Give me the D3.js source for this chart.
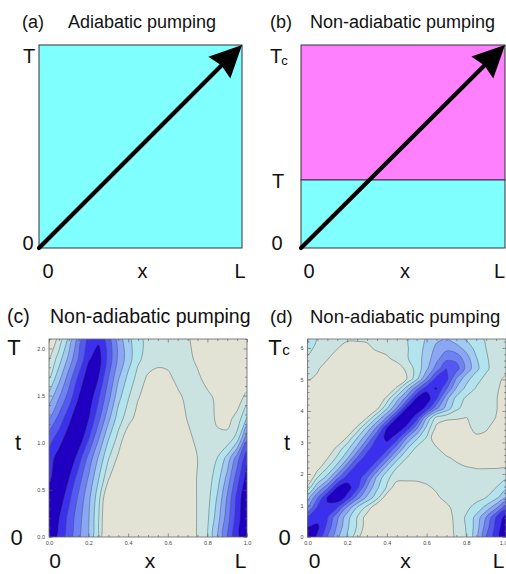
<!DOCTYPE html>
<html><head><meta charset="utf-8">
<script src="https://cdn.jsdelivr.net/npm/d3@7"></script>
<style>body{margin:0;background:#fff}svg{display:block}</style>
</head><body>
<svg id="fig" width="506" height="574"></svg>
<script>
// ---------------- data ----------------
const panelTitles = ["(a)","(b)","(c)","(d)"];
const panelNames = ["Adiabatic pumping","Non-adiabatic pumping","Non-adiabatic pumping","Non-adiabatic pumping"];
const arrowPath = [[0,0],[1,1]];          // from (0,0) to (L, T) / (L, Tc)
const tRatioB = 0.335;                    // T / Tc in panel (b)
const gridX = [0,0.05,0.1,0.15,0.2,0.25,0.3,0.35,0.4,0.45,0.5,0.55,0.6,0.65,0.7,0.75,0.8,0.85,0.9,0.95,1];
const gridTc = [0,0.21,0.42,0.63,0.84,1.05,1.26,1.47,1.68,1.89,2.1];
const gridTd = [0,0.314,0.628,0.942,1.257,1.571,1.885,2.199,2.513,2.827,3.142,3.456,3.770,4.084,4.398,4.712,5.027,5.341,5.655,5.969,6.283];
// panel (c) field (rows = t from bottom to top)
const fieldC = [
 [8.6,7.2,6.0,4.7,3.5,1.4,-1.5,-1,-1,-1,-1,-1,-1,-1,-0.5,0.6,1.5,3.5,5.5,7.3,8.3],
 [8.7,7.6,6.2,4.9,3.6,1.6,-1.2,-1,-1,-1,-1,-1,-1,-1,-0.5,0.6,1.3,3.0,5.0,7.0,8.7],
 [8.4,8.3,6.8,5.3,3.8,1.9,-0.8,-1,-1,-1,-1,-1,-1,-1,-0.5,0.6,1.1,2.6,4.6,6.8,8.7],
 [7.2,8.6,7.6,6.0,4.4,2.6,0.7,-1,-1,-1,-1,-1,-1,-1,-0.5,0.6,1.0,2.0,3.8,6.0,8.0],
 [7.0,8.0,8.6,7.0,5.2,3.4,1.6,0.3,-1,-1,-1,-1,-1,-1,-0.5,0.5,0.8,1.5,2.8,5.0,7.2],
 [6.0,7.0,8.1,8.3,6.6,4.6,2.6,1.2,-0.3,-1,-1,-1,-1,-0.8,0.1,0.9,1.0,0.75,0.72,1.9,5.2],
 [4.5,5.8,7.2,8.5,7.6,5.8,3.8,2.0,1.0,0.0,-1,-1,-1,-0.3,0.6,1.0,1.0,0.3,0.2,0.8,2.6],
 [3.0,4.5,6.0,7.6,8.2,6.6,4.8,2.8,1.55,0.55,0.0,-0.3,-0.3,0.2,0.8,1.0,0.9,0.2,-0.3,0.0,0.9],
 [1.5,3.2,5.0,6.8,8.2,7.5,5.5,3.6,2.2,1.1,0.3,0.0,0.2,0.8,1.0,0.8,0.0,-0.5,-0.5,-0.5,-0.3],
 [0.4,2.0,3.8,5.6,7.4,8.0,6.2,4.3,3.0,1.7,1.1,0.9,0.9,1.0,0.9,0.2,-0.3,-0.5,-0.5,-0.5,-0.5],
 [-0.5,0.8,2.8,5.0,6.9,7.3,6.0,4.0,2.8,1.8,1.2,1.0,1.0,1.0,0.7,-0.2,-0.5,-0.5,-0.5,-0.5,-0.5]
];
// panel (d) field
const fieldD = [
 [8.6,7.3,5.5,3.7,2.4,0.8,-0.4,-1,-1,-1,-1,-1,-1,-1,-0.5,0.8,1.5,3.0,5.5,7.0,8.6],
 [7.5,7.8,6.2,4.3,2.7,1.4,-0.1,-1,-1,-1,-1,-1,-1,-1,-0.4,0.9,1.55,2.9,5.0,6.8,8.5],
 [6.6,7.0,6.6,4.7,2.9,1.5,0.0,-1,-1,-1,-1,-1,-1,-1,-0.3,1.0,1.6,2.8,4.5,6.5,8.0],
 [4.4,6.6,7.4,6.6,4.3,2.5,1.2,-0.4,-1,-1,-1,-1,-1,-0.6,0.2,1.0,1.3,1.8,2.8,4.2,6.0],
 [3.0,5.4,7.6,8.4,7.2,5.0,3.3,1.9,-0.2,-0.6,-0.6,-0.6,-0.3,0.3,0.9,1.0,1.0,1.2,1.5,2.2,3.5],
 [0.8,3.3,5.2,7.6,8.0,6.8,4.4,2.7,1.4,-0.3,-0.3,-0.2,0.3,0.7,1.0,1.0,1.0,1.1,1.2,1.5,2.2],
 [-0.8,1.5,2.9,5.2,7.0,7.2,5.6,3.3,1.7,1.0,0.9,0.9,0.9,1.0,1.0,1.0,1.0,1.0,1.0,1.1,1.3],
 [-1,0.1,1.5,3.0,5.3,7.1,7.1,5.3,3.0,1.5,1.0,1.0,1.0,1.0,1.0,0.9,0.6,0.45,0.45,0.45,0.45],
 [-1,-1,0.4,1.7,3.3,5.6,7.1,7.0,5.2,2.9,1.5,1.0,0.9,0.9,0.7,0.2,-0.3,-0.4,-0.4,-0.4,-0.4],
 [-1,-1,-0.7,0.8,2.1,3.8,6.0,7.3,6.9,5.0,2.7,1.3,1.0,0.6,-0.3,-0.6,-0.6,-0.6,-0.6,-0.6,-0.6],
 [-1,-1,-1,-1,0.7,2.5,4.3,6.6,7.9,7.0,4.5,2.7,1.4,-0.5,-0.6,-0.6,-0.6,0.3,0.0,-0.6,-0.6],
 [-1,-1,-1,-1,-1,0.8,2.8,4.8,7.6,8.2,7.2,4.7,2.2,0.2,-0.3,-0.3,0.2,0.8,0.7,-0.2,-0.6],
 [-1,-1,-1,-1,-1,-1,0.6,2.7,4.8,7.6,8.3,6.9,3.5,1.0,0.7,0.6,0.45,0.9,1.0,0.45,-0.3],
 [-1,-1,-1,-1,-1,-1,-1,0.2,2.4,4.6,7.6,8.3,7.2,4.7,3.1,1.7,1.1,1.0,0.9,0.6,-0.3],
 [-1,-1,-1,-1,-1,-1,-1,-1,0.9,3.0,5.0,7.7,8.1,6.6,3.8,2.2,1.3,1.0,0.9,0.6,-0.3],
 [-0.6,-1,-1,-1,-1,-1,-1,-1,-1,0.8,3.0,5.2,7.2,7.6,5.6,3.4,2.2,1.4,1.0,0.7,0.0],
 [0.7,0.2,-0.5,-1,-1,-1,-1,-1,-1,-1,0.5,2.2,4.6,6.9,6.9,4.4,2.9,1.9,1.2,0.8,0.3],
 [1.0,0.7,-0.3,-1,-1,-1,-1,-1,-1,-0.5,0.9,1.8,3.3,5.0,6.5,6.0,4.2,2.8,1.7,1.0,0.8],
 [1.3,1.0,0.6,-0.5,-1,-1,-1,-0.7,0.2,1.0,1.4,2.0,3.0,4.2,5.3,5.2,4.0,2.6,1.6,1.1,1.0],
 [1.8,1.2,1.0,0.5,-0.5,-0.5,0.0,0.8,1.0,1.2,1.4,2.0,2.8,3.8,4.3,4.0,3.2,2.2,1.5,1.1,1.1],
 [2.2,1.4,1.0,0.9,0.8,0.8,0.8,0.9,1.0,1.2,1.4,2.0,2.6,3.3,3.6,3.0,2.4,1.8,1.4,1.2,1.2]
];
const levels = [0.5,1.5,2.5,3.5,4.5,5.5,6.5,7.5];
const levelColors = ["#e2e2d5","#cbe3e0","#b3e3ec","#a2cbf3","#8aa6f5","#6f82f5","#5459f3","#3a30ee","#2000c0"];
const xTicks = [0,0.2,0.4,0.6,0.8,1.0];
const xTickLabels = ["0.0","0.2","0.4","0.6","0.8","1.0"];
const xMinor = [0.05,0.1,0.15,0.25,0.3,0.35,0.45,0.5,0.55,0.65,0.7,0.75,0.85,0.9,0.95];
const yTicksC = [0,0.5,1.0,1.5,2.0];
const yTickLabelsC = ["0.0","0.5","1.0","1.5","2.0"];
const yMinorC = [0.1,0.2,0.3,0.4,0.6,0.7,0.8,0.9,1.1,1.2,1.3,1.4,1.6,1.7,1.8,1.9,2.1];
const yTicksD = [0,1,2,3,4,5,6];
const yTickLabelsD = ["0","1","2","3","4","5","6"];
const yMinorD = [0.2,0.4,0.6,0.8,1.2,1.4,1.6,1.8,2.2,2.4,2.6,2.8,3.2,3.4,3.6,3.8,4.2,4.4,4.6,4.8,5.2,5.4,5.6,5.8,6.2];

// ---------------- drawing ----------------
const svg = d3.select("#fig");
const FONT = "'Liberation Sans', Arial, Helvetica, sans-serif";

function txt(x, y, s, size, anchor) {
  return svg.append("text").attr("x", x).attr("y", y).text(s)
    .attr("font-family", FONT).attr("font-size", size)
    .attr("text-anchor", anchor || "start").attr("fill", "#111");
}

function arrow(g, p0, p1) {
  const dx = p1[0]-p0[0], dy = p1[1]-p0[1], len = Math.hypot(dx, dy);
  const ux = dx/len, uy = dy/len, px = -uy, py = ux;
  const hl = 32, hw = 15.5, notch = 3;
  const bx = p1[0]-ux*hl, by = p1[1]-uy*hl;
  g.append("line").attr("x1", p0[0]).attr("y1", p0[1])
    .attr("x2", bx+ux*(notch+2)).attr("y2", by+uy*(notch+2))
    .attr("stroke", "#000").attr("stroke-width", 4.2).attr("stroke-linecap", "round");
  g.append("path").attr("d", d3.line()([
    p1, [bx+px*hw, by+py*hw], [bx+ux*notch, by+uy*notch], [bx-px*hw, by-py*hw]
  ]) + "Z").attr("fill", "#000");
}

// Panel (a)
const xa = d3.scaleLinear().domain([0,1]).range([39,242]);
const ya = d3.scaleLinear().domain([0,1]).range([248,45]);
const ga = svg.append("g");
ga.append("rect").attr("x", xa(0)).attr("y", ya(1)).attr("width", xa(1)-xa(0)).attr("height", ya(0)-ya(1))
  .attr("fill", "#80ffff").attr("stroke", "#333").attr("stroke-width", 1);
arrow(ga, [xa(arrowPath[0][0]), ya(arrowPath[0][1])], [xa(arrowPath[1][0]), ya(arrowPath[1][1])]);

// Panel (b)
const xb = d3.scaleLinear().domain([0,1]).range([301,505]);
const yb = d3.scaleLinear().domain([0,1]).range([248,45]);
const gb = svg.append("g");
gb.append("rect").attr("x", xb(0)).attr("y", yb(1)).attr("width", xb(1)-xb(0)).attr("height", yb(tRatioB)-yb(1))
  .attr("fill", "#ff80ff").attr("stroke", "#333").attr("stroke-width", 1);
gb.append("rect").attr("x", xb(0)).attr("y", yb(tRatioB)).attr("width", xb(1)-xb(0)).attr("height", yb(0)-yb(tRatioB))
  .attr("fill", "#80ffff").attr("stroke", "#333").attr("stroke-width", 1);
arrow(gb, [xb(arrowPath[0][0]), yb(arrowPath[0][1])], [xb(arrowPath[1][0]), yb(arrowPath[1][1])]);

// contour offset convention check
const testC = d3.contours().size([2,1]).thresholds([0.5])([0,1]);
let minX = Infinity;
testC[0].coordinates.forEach(p => p.forEach(r => r.forEach(pt => { if (pt[0] < minX) minX = pt[0]; })));
const OFF = minX - 0.5;

function contourPanel(field, gx, gt, xs, ys, clipId) {
  const g = svg.append("g");
  const x0 = xs(0), x1 = xs(1), y0 = ys(gt[gt.length-1]), y1 = ys(0);
  svg.append("clipPath").attr("id", clipId).append("rect")
    .attr("x", x0).attr("y", y0).attr("width", x1-x0).attr("height", y1-y0);
  const gc = g.append("g").attr("clip-path", `url(#${clipId})`);
  gc.append("rect").attr("x", x0).attr("y", y0).attr("width", x1-x0).attr("height", y1-y0)
    .attr("fill", levelColors[0]);
  const nx = gx.length, ny = gt.length;
  const flat = [];
  for (let j = 0; j < ny; j++) for (let i = 0; i < nx; i++) flat.push(field[j][i]);
  const polys = d3.contours().size([nx, ny]).thresholds(levels).smooth(true)(flat);
  const dx = gx[1]-gx[0], dt = gt[1]-gt[0];
  const px = c => xs(gx[0] + (c-OFF)*dx);
  const py = c => ys(gt[0] + (c-OFF)*dt);
  const line = d3.line().curve(d3.curveCatmullRomClosed.alpha(0.5));
  polys.forEach((mp, k) => {
    let d = "";
    mp.coordinates.forEach(poly => poly.forEach(ring => {
      const pts = [];
      ring.slice(0, -1).forEach(p => {
        const q = [px(p[0]), py(p[1])];
        const last = pts[pts.length-1];
        if (!last || Math.hypot(q[0]-last[0], q[1]-last[1]) > 0.05) pts.push(q);
      });
      if (pts.length > 2) d += line(pts);
    }));
    if (d) gc.append("path").attr("d", d).attr("fill", levelColors[k+1]).attr("fill-rule", "evenodd")
      .attr("stroke", "#3f4f55").attr("stroke-opacity", 0.75).attr("stroke-width", 0.6);
  });
  return g;
}

function frame(g, xs, ys, yTicks, yLabels, yMinor, tTop, lastEnd) {
  const gAx = g.append("g").attr("font-family", FONT);
  const yb0 = ys(0), yt0 = ys(tTop);
  gAx.append("g").attr("class", "xlab").attr("transform", `translate(0,${yb0})`)
    .call(d3.axisBottom(xs).tickValues(xTicks).tickFormat((d,i) => xTickLabels[i]).tickSize(-3.5).tickPadding(4));
  gAx.append("g").attr("transform", `translate(0,${yb0})`)
    .call(d3.axisBottom(xs).tickValues(xMinor).tickFormat("").tickSize(-2));
  gAx.append("g").attr("transform", `translate(0,${yt0})`)
    .call(d3.axisTop(xs).tickValues(xTicks).tickFormat("").tickSize(-3.5));
  gAx.append("g").attr("transform", `translate(0,${yt0})`)
    .call(d3.axisTop(xs).tickValues(xMinor).tickFormat("").tickSize(-2));
  gAx.append("g").attr("transform", `translate(${xs(0)},0)`)
    .call(d3.axisLeft(ys).tickValues(yTicks).tickFormat((d,i) => yLabels[i]).tickSize(-3.5).tickPadding(4));
  gAx.append("g").attr("transform", `translate(${xs(0)},0)`)
    .call(d3.axisLeft(ys).tickValues(yMinor).tickFormat("").tickSize(-2));
  gAx.append("g").attr("transform", `translate(${xs(1)},0)`)
    .call(d3.axisRight(ys).tickValues(yTicks).tickFormat("").tickSize(-3.5));
  gAx.append("g").attr("transform", `translate(${xs(1)},0)`)
    .call(d3.axisRight(ys).tickValues(yMinor).tickFormat("").tickSize(-2));
  gAx.selectAll(".domain").remove();
  gAx.selectAll(".tick line").attr("stroke", "#555").attr("stroke-width", 0.6);
  gAx.selectAll(".tick text").attr("font-size", 5.5).attr("fill", "#444");
  if (lastEnd) gAx.selectAll(".xlab .tick:last-of-type text").attr("text-anchor", "end").attr("dx", 1);
  g.append("rect").attr("x", xs(0)).attr("y", yt0).attr("width", xs(1)-xs(0)).attr("height", yb0-yt0)
    .attr("fill", "none").attr("stroke", "#666").attr("stroke-width", 0.8);
}

// Panel (c)
const xc = d3.scaleLinear().domain([0,1]).range([49,247]);
const yc = d3.scaleLinear().domain([0,2.1]).range([537,339]);
const gC = contourPanel(fieldC, gridX, gridTc, xc, yc, "clipC");
frame(gC, xc, yc, yTicksC, yTickLabelsC, yMinorC, 2.1, false);

// Panel (d)
const xd = d3.scaleLinear().domain([0,1]).range([307.5,506]);
const yd = d3.scaleLinear().domain([0,6.283]).range([537,339]);
const gD = contourPanel(fieldD, gridX, gridTd, xd, yd, "clipD");
frame(gD, xd, yd, yTicksD, yTickLabelsD, yMinorD, 6.283, true);

// ---------------- texts ----------------
txt(22, 27.5, panelTitles[0], 18);
txt(68, 27.5, panelNames[0], 18);
txt(270, 27.5, panelTitles[1], 18);
txt(310, 27.5, panelNames[1], 18);
txt(7, 323, panelTitles[2], 19.5);
txt(50, 323, panelNames[2], 19.5);
txt(270, 323, panelTitles[3], 18.5);
txt(310, 323, panelNames[3], 18.5);

// axis letters (a)
txt(29, ya(1)+18, "T", 20, "middle");
txt(28, ya(0)+2, "0", 20, "middle");
txt(xa(0)+9, 278, "0", 20, "middle");
txt((xa(0)+xa(1))/2+2, 278, "x", 20, "middle");
txt(xa(1)-2, 278, "L", 20, "middle");
// axis letters (b)
txt(276, yb(1)+18, "T", 20, "middle");
txt(284.5, yb(1)+20, "c", 13, "middle");
txt(278, yb(tRatioB)+8, "T", 20, "middle");
txt(277, yb(0)+2, "0", 20, "middle");
txt(xb(0)+8, 278, "0", 20, "middle");
txt((xb(0)+xb(1))/2+2, 278, "x", 20, "middle");
txt(499.5, 278, "L", 20, "middle");
// axis letters (c)
txt(14, 355, "T", 22, "middle");
txt(18, 450, "t", 22, "middle");
txt(16.5, 545, "0", 22, "middle");
txt(xc(0)+6, 567.5, "0", 21, "middle");
txt(150, 567.5, "x", 21, "middle");
txt(240.5, 567.5, "L", 21, "middle");
// axis letters (d)
txt(275, 355, "T", 22, "middle");
txt(286, 355, "c", 15, "middle");
txt(287, 450, "t", 22, "middle");
txt(284.5, 545, "0", 22, "middle");
txt(xd(0)+7, 567.5, "0", 21, "middle");
txt(405.5, 567.5, "x", 21, "middle");
txt(498.5, 567.5, "L", 21, "middle");
</script>
</body></html>
